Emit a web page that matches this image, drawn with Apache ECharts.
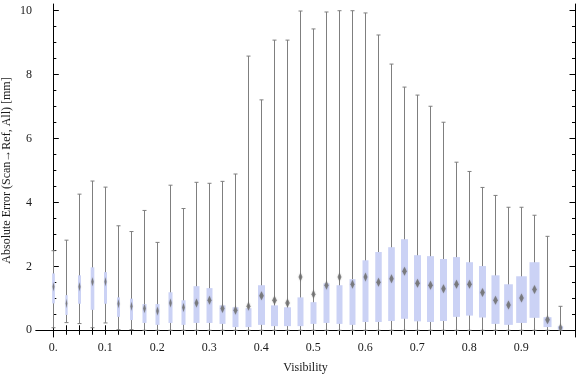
<!DOCTYPE html>
<html>
<head>
<meta charset="utf-8">
<script src="https://cdn.jsdelivr.net/npm/echarts@6/dist/echarts.min.js"></script>
<style>
  html, body { margin: 0; padding: 0; background: #fff; }
  #chart { width: 576px; height: 377px; }
</style>
</head>
<body>
<div id="chart"></div>
<script>
// Bin centres (visibility)
const visibility = [0, 0.025, 0.05, 0.075, 0.1, 0.125, 0.15, 0.175, 0.2, 0.225,
  0.25, 0.275, 0.3, 0.325, 0.35, 0.375, 0.4, 0.425, 0.45, 0.475,
  0.5, 0.525, 0.55, 0.575, 0.6, 0.625, 0.65, 0.675, 0.7, 0.725,
  0.75, 0.775, 0.8, 0.825, 0.85, 0.875, 0.9, 0.925, 0.95, 0.975];

// Whisker ends
const whiskerLow = [0.08, 0.24, 0.21, 0.08, 0.23, 0.02, 0.02, 0, 0, 0,
  0, 0, 0, 0, 0, 0, 0, 0, 0, 0,
  0, 0, 0, 0, 0, 0, 0, 0, 0, 0,
  0, 0, 0, 0, 0, 0, 0, 0, 0, 0];
const whiskerHigh = [2.49, 2.82, 4.26, 4.67, 4.48, 3.27, 3.09, 3.75, 2.75, 4.54,
  3.81, 4.63, 4.60, 4.66, 4.89, 8.58, 7.21, 9.08, 9.08, 9.99,
  9.43, 9.96, 10.0, 10.0, 9.93, 9.24, 8.33, 7.61, 7.36, 7.01,
  6.51, 5.26, 4.97, 4.47, 4.22, 3.85, 3.85, 3.60, 2.94, 0.75];

// Box bounds and centre marker
const boxLow = [0.84, 0.48, 0.83, 0.64, 0.83, 0.42, 0.32, 0.23, 0.17, 0.23,
  0.17, 0.23, 0.23, 0.20, 0.10, 0.10, 0.17, 0.13, 0.13, 0.13,
  0.20, 0.23, 0.20, 0.17, 0.26, 0.26, 0.29, 0.36, 0.28, 0.26,
  0.29, 0.42, 0.46, 0.40, 0.20, 0.17, 0.23, 0.39, 0.10, 0.02];
const boxHigh = [1.78, 1.10, 1.72, 1.97, 1.82, 1.03, 0.99, 0.82, 0.82, 1.19,
  0.94, 1.38, 1.32, 0.78, 0.72, 0.69, 1.41, 0.78, 0.72, 1.03,
  0.88, 1.47, 1.41, 1.60, 2.19, 2.45, 2.60, 2.85, 2.35, 2.32,
  2.23, 2.29, 2.13, 2.01, 1.72, 1.44, 1.69, 2.13, 0.41, 0.13];
const centre = [1.36, 0.84, 1.36, 1.52, 1.52, 0.83, 0.75, 0.68, 0.60, 0.85,
  0.71, 0.85, 0.94, 0.68, 0.63, 0.75, 1.08, 0.94, 0.85, 1.67,
  1.13, 1.41, 1.67, 1.44, 1.67, 1.50, 1.61, 1.85, 1.47, 1.41,
  1.30, 1.44, 1.44, 1.18, 0.94, 0.79, 1.01, 1.28, 0.33, 0.08];

// Relative box width (fraction of the bin)
const relWidth = [0.21, 0.18, 0.23, 0.28, 0.23, 0.23, 0.23, 0.31, 0.31, 0.31,
  0.31, 0.46, 0.46, 0.46, 0.46, 0.46, 0.54, 0.54, 0.54, 0.46,
  0.46, 0.46, 0.46, 0.46, 0.46, 0.50, 0.51, 0.54, 0.54, 0.54,
  0.54, 0.54, 0.54, 0.54, 0.62, 0.67, 0.82, 0.77, 0.62, 0.41];

const xLabels = [0, 0.1, 0.2, 0.3, 0.4, 0.5, 0.6, 0.7, 0.8, 0.9];
const yMajor = [0, 2, 4, 6, 8, 10];
const yMinor = [0.5, 1, 1.5, 2.5, 3, 3.5, 4.5, 5, 5.5, 6.5, 7, 7.5, 8.5, 9, 9.5];

const binSize = 0.025;
const font = 'Liberation Serif';

const data = visibility.map((v, i) =>
  [v, whiskerLow[i], boxLow[i], centre[i], boxHigh[i], whiskerHigh[i], relWidth[i]]);

const renderBox = (params, api) => {
  const x = api.value(0);
  const lo = api.coord([x, api.value(1)]);
  const q1 = api.coord([x, api.value(2)]);
  const md = api.coord([x, api.value(3)]);
  const q3 = api.coord([x, api.value(4)]);
  const hi = api.coord([x, api.value(5)]);
  const bw = api.size([binSize * api.value(6), 0])[0];
  const cx = Math.round(lo[0]) + 0.5;
  const grey = '#7f7f7f';
  const dw = Math.min(bw * 0.65, 4.5);
  const dh = 9;
  return {
    type: 'group',
    children: [
      { type: 'line', shape: { x1: cx, y1: lo[1], x2: cx, y2: hi[1] },
        style: { stroke: grey, lineWidth: 1 } },
      { type: 'line', shape: { x1: cx - 2, y1: lo[1], x2: cx + 2, y2: lo[1] },
        style: { stroke: grey, lineWidth: 1 } },
      { type: 'line', shape: { x1: cx - 2, y1: hi[1], x2: cx + 2, y2: hi[1] },
        style: { stroke: grey, lineWidth: 1 } },
      { type: 'rect', shape: { x: cx - bw / 2, y: q3[1], width: bw, height: q1[1] - q3[1] },
        style: { fill: '#cbd2f5' } },
      { type: 'polygon',
        shape: { points: [[cx, md[1] - dh / 2], [cx + dw / 2, md[1]], [cx, md[1] + dh / 2], [cx - dw / 2, md[1]]] },
        style: { fill: 'rgba(110,110,110,0.8)', shadowBlur: 1.5, shadowColor: 'rgba(110,110,110,0.6)' } }
    ]
  };
};

const chart = echarts.init(document.getElementById('chart'), null, { renderer: 'canvas' });

const labelStyle = { fontFamily: font, fontSize: 12, color: '#1a1a1a' };

chart.setOption({
  animation: false,
  grid: { left: 36, right: 1, top: 4, bottom: 40, containLabel: false, outerBoundsMode: 'none' },
  xAxis: [
    {
      type: 'value', position: 'bottom', min: -0.0333, max: 1.0033,
      name: 'Visibility', nameLocation: 'middle', nameGap: 25, nameMoveOverlap: false,
      nameTextStyle: { fontFamily: font, fontSize: 12, color: '#1a1a1a' },
      axisLine: { show: true, lineStyle: { color: '#000', width: 1 } },
      axisTick: { show: true, inside: true, length: 5, customValues: visibility, lineStyle: { color: '#000' } },
      axisLabel: { ...labelStyle, margin: 5, customValues: xLabels,
        formatter: v => (v === 0 ? '0.' : v.toFixed(1)) },
      splitLine: { show: false }
    },
    {
      type: 'value', position: 'top', min: -0.0333, max: 1.0033,
      axisLine: { show: true, lineStyle: { color: '#000', width: 1 } },
      axisTick: { show: true, inside: true, length: 4.5, customValues: visibility, lineStyle: { color: '#000' } },
      axisLabel: { show: false },
      splitLine: { show: false }
    }
  ],
  yAxis: [
    {
      type: 'value', position: 'left', min: -0.21, max: 10.21,
      name: 'Absolute Error (Scan\u2192Ref, All) [mm]', nameLocation: 'middle', nameGap: 23, nameMoveOverlap: false,
      nameTextStyle: { fontFamily: font, fontSize: 12, color: '#1a1a1a' },
      axisLine: { show: true, lineStyle: { color: '#000', width: 1 } },
      axisTick: { show: true, inside: true, length: 5.5, customValues: yMajor, lineStyle: { color: '#000' } },
      axisLabel: { ...labelStyle, margin: 4, customValues: yMajor },
      splitLine: { show: false }
    },
    {
      type: 'value', position: 'left', offset: 0, min: -0.21, max: 10.21,
      axisLine: { show: false },
      axisTick: { show: true, inside: true, length: 3, customValues: yMinor, lineStyle: { color: '#000' } },
      axisLabel: { show: false },
      splitLine: { show: false }
    },
    {
      type: 'value', position: 'right', min: -0.21, max: 10.21,
      axisLine: { show: true, lineStyle: { color: '#000', width: 1 } },
      axisTick: { show: true, inside: true, length: 5.5, customValues: yMajor, lineStyle: { color: '#000' } },
      axisLabel: { show: false },
      splitLine: { show: false }
    },
    {
      type: 'value', position: 'right', offset: 0, min: -0.21, max: 10.21,
      axisLine: { show: false },
      axisTick: { show: true, inside: true, length: 3, customValues: yMinor, lineStyle: { color: '#000' } },
      axisLabel: { show: false },
      splitLine: { show: false }
    }
  ],
  series: [
    {
      type: 'custom',
      xAxisIndex: 0,
      yAxisIndex: 0,
      renderItem: renderBox,
      encode: { x: 0, y: [1, 2, 3, 4, 5] },
      data: data,
      clip: true
    }
  ]
});
</script>
</body>
</html>
